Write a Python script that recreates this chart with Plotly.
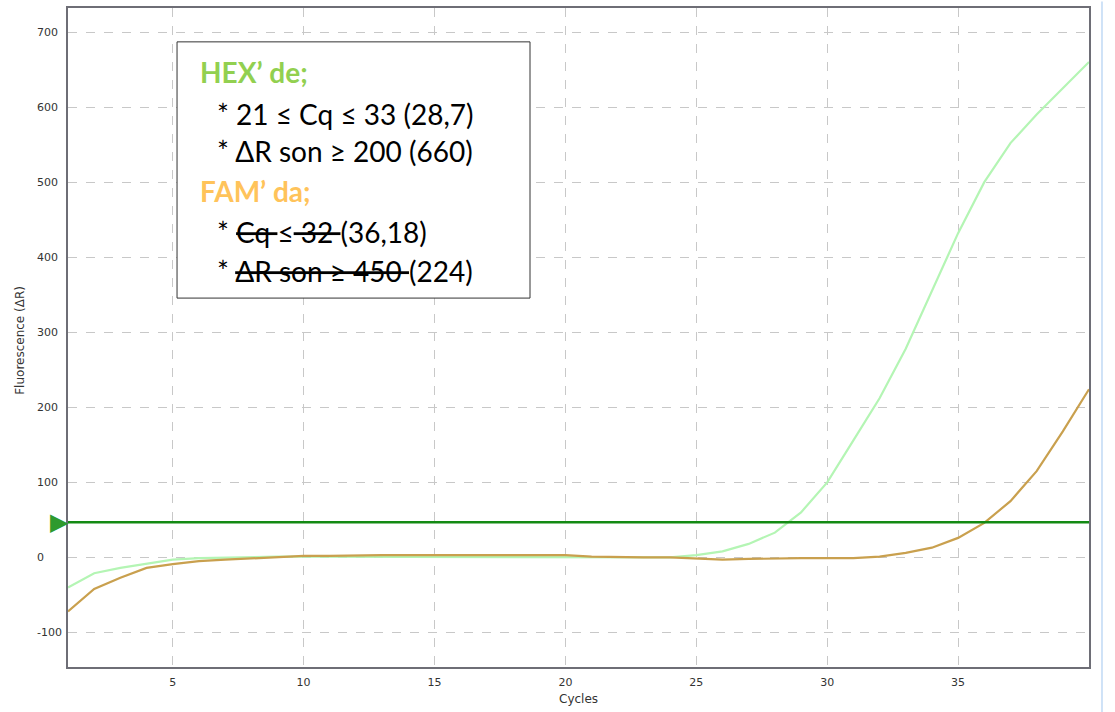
import plotly.graph_objects as go

cycles = list(range(1, 41))
hex_values = [-40, -21, -14, -8, -3, -1, 0, 1, 1, 1,
              1, 1, 1, 1, 1, 1, 1, 1, 1, 1,
              1, 0, 0, 0, 3, 8, 18, 33, 60, 100,
              156, 212, 278, 355, 432, 500, 552, 590, 625, 660]
fam_values = [-72, -42, -27, -14, -9, -5, -3, -1, 0, 2,
              2, 3, 3, 3, 3, 3, 3, 3, 3, 3,
              1, 0, 0, 0, -1, -3, -2, -1, -1, -1,
              -1, 1, 6, 13, 26, 46, 75, 115, 168, 224]
threshold = 47

x_ticks = [5, 10, 15, 20, 25, 30, 35]
y_ticks = [-100, 0, 100, 200, 300, 400, 500, 600, 700]
y_tick_labels = ["-100", "0", "100", "200", "300", "400", "500", "600", "700"]

box_lines = [
    ("<b>HEX’ de;</b>", "#92D050"),
    ("* 21 ≤ Cq ≤ 33 (28,7)", "#000000"),
    ("* ΔR son ≥ 200 (660)", "#000000"),
    ("<b>FAM’ da;</b>", "#FFC35A"),
    ("* <s>Cq </s>≤<s> 32 </s>(36,18)", "#000000"),
    ("* <s>ΔR son ≥ 450 </s>(224)", "#000000"),
]

fig = go.Figure()
fig.add_trace(go.Scatter(x=cycles, y=hex_values, mode="lines",
                         line=dict(color="#b4f5b4", width=2.2), name="HEX"))
fig.add_trace(go.Scatter(x=cycles, y=fam_values, mode="lines",
                         line=dict(color="#c9a04e", width=2.2), name="FAM"))

fig.add_hline(y=threshold, line=dict(color="#138a13", width=2.5))

# threshold marker triangle at left axis
fig.add_annotation(x=0, xref="paper", y=threshold, yref="y", text="▶",
                   showarrow=False, xanchor="right", yanchor="middle",
                   font=dict(size=24, color="#2e9a2e", family="DejaVu Sans"),
                   xshift=3)

# y tick labels (left aligned)
for v, lab in zip(y_ticks, y_tick_labels):
    fig.add_annotation(x=-0.0323, xref="paper", y=v, yref="y", text=lab,
                       showarrow=False, xanchor="left", yanchor="middle",
                       font=dict(size=11, color="#333333", family="DejaVu Sans"))

# axis titles
fig.add_annotation(x=-0.047, xref="paper", y=0.495, yref="paper",
                   text="Fluorescence (ΔR)", textangle=-90, showarrow=False,
                   xanchor="center", yanchor="middle",
                   font=dict(size=12, color="#333333", family="DejaVu Sans"))
fig.add_annotation(x=0.5, xref="paper", y=-0.0484, yref="paper",
                   text="Cycles", showarrow=False,
                   xanchor="center", yanchor="middle",
                   font=dict(size=12, color="#333333", family="DejaVu Sans"))

# text box
fig.add_shape(type="rect", xref="paper", yref="paper",
              x0=0.1068, x1=0.4525, y0=0.5598, y1=0.9486,
              line=dict(color="#333333", width=1), fillcolor="white", layer="above")

line_y = [0.9034, 0.8386, 0.7826, 0.7221, 0.6596, 0.601]
for (txt, col), yy in zip(box_lines, line_y):
    header = txt.startswith("<b>")
    fig.add_annotation(x=0.1273 if header else 0.144, xref="paper",
                       y=yy, yref="paper", text=txt, showarrow=False,
                       xanchor="left", yanchor="middle",
                       font=dict(size=28, color=col, family="Lato"))

# window edge line
fig.add_shape(type="line", xref="paper", yref="paper", x0=1.0127, x1=1.0127,
              y0=-0.07, y1=1.01, line=dict(color="#cfe2f7", width=2))

axis_common = dict(showgrid=True, gridcolor="#c8c8c8", griddash="dash", gridwidth=1,
                   showline=True, linecolor="#6e6e76", linewidth=1.5, mirror=True,
                   zeroline=False, ticks="",
                   tickfont=dict(size=11, color="#333333", family="DejaVu Sans"))

fig.update_layout(
    width=1115, height=712,
    margin=dict(l=68, r=26, t=6, b=45),
    paper_bgcolor="white", plot_bgcolor="white",
    showlegend=False,
    xaxis=dict(range=[1, 40], tickvals=x_ticks, ticklabelstandoff=4, **axis_common),
    yaxis=dict(range=[-146, 732], tickvals=y_ticks, showticklabels=False, **axis_common),
)

fig.write_html("out.html", config={"displayModeBar": False},
               post_script="document.body.style.margin='0';")
